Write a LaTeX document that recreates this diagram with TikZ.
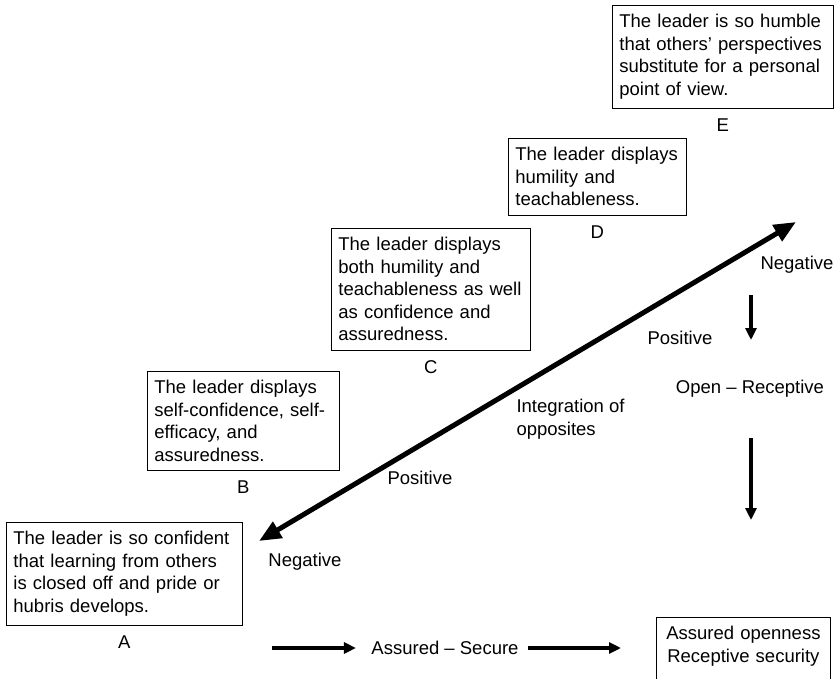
\documentclass[tikz,border=0pt]{standalone}
\usepackage{fontspec}
\setmainfont{Liberation Sans}
\usetikzlibrary{positioning,arrows.meta}

\begin{document}
\begin{tikzpicture}
[x=1pt,y=-1pt,
every node/.style={font=\fontsize{18.5}{22.5}\selectfont},
textbox/.style={draw,line width=0.8pt,anchor=north west,align=left,inner xsep=7pt,inner ysep=9pt},
letter/.style={below=6.5pt of #1},
bigarrow/.style={line width=5pt,{Triangle[length=22pt,width=18pt]}-{Triangle[length=22pt,width=18pt]}},
smallarrow/.style={line width=3.8pt,-{Triangle[length=12pt,width=11pt]}}]
\useasboundingbox (0,0) rectangle (835,679);
\clip (0,0) rectangle (835,679);

% the five positions
\node[textbox,text width=207pt] (boxE) at (612,5)
{The leader is so humble\\that others' perspectives\\substitute for a personal\\point of view.};
\node[textbox,text width=164pt] (boxD) at (508,138)
{The leader displays\\humility and\\teachableness.};
\node[textbox,text width=185pt] (boxC) at (331,228)
{The leader displays\\both humility and\\teachableness as well\\as confidence and\\assuredness.};
\node[textbox,text width=178pt] (boxB) at (147,371)
{The leader displays\\self-confidence, self-\\efficacy, and\\assuredness.};
\node[textbox,text width=222pt] (boxA) at (6,522)
{The leader is so confident\\that learning from others\\is closed off and pride or\\hubris develops.};
\node[letter=boxE] (E) {E};
\node[letter=boxD] (D) {D};
\node[letter=boxC] (C) {C};
\node[letter=boxB] (B) {B};
\node[letter=boxA] (A) {A};

% the axis
\coordinate (negA) at (259,541);
\coordinate (negE) at (796,222);
\draw[bigarrow] (negA) -- (negE);
\node (neglow) at (305,562) {Negative};
\node (poslow) at (420,478) {Positive};
\node[anchor=west,align=left] (integ) at (513,419) {Integration of\\opposites};
\node (poshigh) at (680,338) {Positive};
\node (neghigh) at (797,265) {Negative};

% right column
\node (open) at (750,389) {Open -- Receptive};
\coordinate (r1) at (751,295);
\coordinate (r2) at (751,340);
\coordinate (r3) at (751,438);
\coordinate (r4) at (751,520);
\path[smallarrow] (r1) edge (r2) (r3) edge (r4);

% bottom row
\node (secure) at (445,648) {Assured -- Secure};
\node[textbox,align=center,text width=160pt,text depth=50pt] (boxF) at (656,617)
{Assured openness\\Receptive security};
\coordinate (s0) at (272,648);
\draw[smallarrow,shorten >=12pt] (s0) -- (secure);
\draw[smallarrow,shorten <=6pt,shorten >=35pt] (secure.east) -- (secure.east -| boxF.west);
\end{tikzpicture}
\end{document}
